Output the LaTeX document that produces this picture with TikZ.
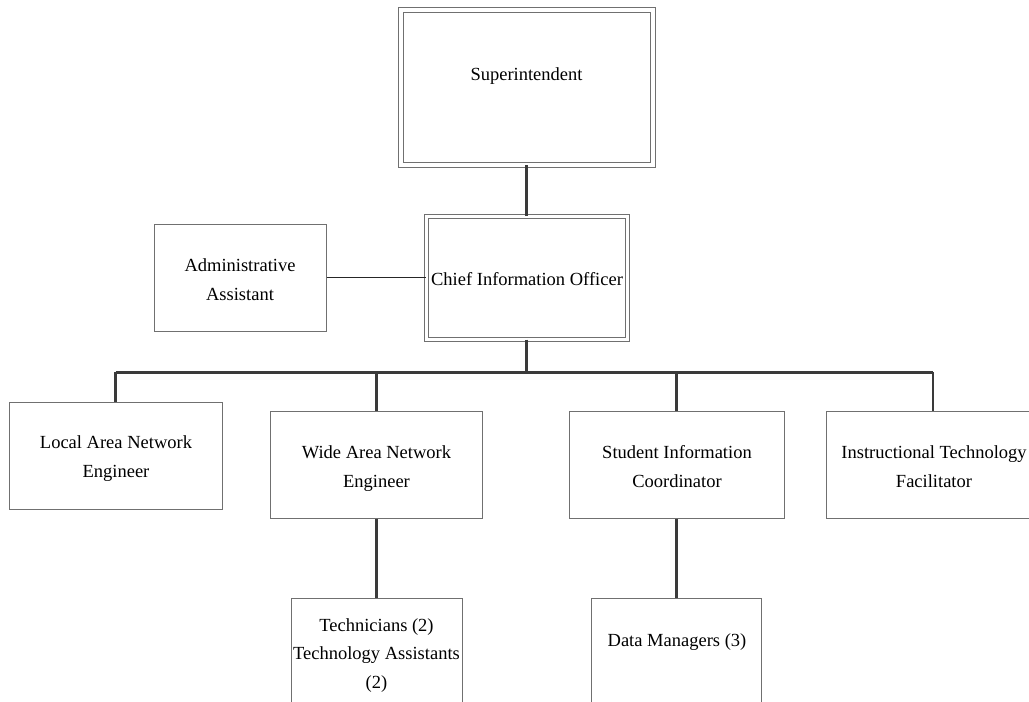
\documentclass[tikz,border=0pt]{standalone}
\usepackage{fontspec}
\setmainfont{Liberation Serif}
\definecolor{boxgray}{HTML}{707070}
\definecolor{conngray}{HTML}{3A3A3A}
\begin{document}
\begin{tikzpicture}[x=1pt,y=-1pt,
  box/.style={draw=boxgray, line width=1pt, fill=white, inner sep=0pt},
  dbox/.style={box, double=white, double distance=3pt},
  lbl/.style={font=\fontsize{18.5}{28.5}\selectfont, align=center, anchor=base, inner sep=0pt},
  conn/.style={draw=conngray, line width=2.5pt},
  busline/.style={draw=conngray, line width=3pt},
  aside/.style={draw=black!85, line width=1.5pt}]
\useasboundingbox (0,0) rectangle (1029,702);
\clip (0,0) rectangle (1029,702);

% boxes
\node[dbox, double distance=4pt, minimum width=252, minimum height=155] (sup) at (526.5,87) {};
\node[dbox, minimum width=201, minimum height=123] (cio) at (526.5,277.5) {};
\node[box, minimum width=172, minimum height=107] (adm) at (240,277.5) {};
\node[box, minimum width=213, minimum height=107] (lan) at (115.5,455.5) {};
\node[box, minimum width=212, minimum height=107] (wan) at (376.5,464.5) {};
\node[box, minimum width=215, minimum height=107] (sic) at (676.5,464.5) {};
\node[box, minimum width=214, minimum height=107] (itf) at (933,464.5) {};
\node[box, minimum width=171, minimum height=110] (tech) at (376.5,653) {};
\node[box, minimum width=170, minimum height=110] (dm) at (676.5,653) {};

% connectors
\coordinate (bus) at (526.5,372);
\draw[conn] (sup.south) -- (cio.north);
\draw[aside] (adm.east) -- (cio.west);
\draw[conn] (cio.south) -- (bus);
\draw[busline] (lan.north |- bus) -- (itf.north |- bus);
\foreach \n in {lan,wan,sic,itf}
  \draw[conn] (\n.north |- bus) -- (\n.north);
\draw[conn] (wan.south) -- (tech.north);
\draw[conn] (sic.south) -- (dm.north);

% labels (base anchor sits on the last line of each label)
\node[lbl] (supt) at (526.5,80) {Superintendent};
\node[lbl] (ciot) at (527,285) {Chief Information Officer};
\node[lbl] (admt) at (240,300) {Administrative\\Assistant};
\node[lbl] (lant) at (116,477) {Local Area Network\\Engineer};
\node[lbl] (want) at (376.5,487) {Wide Area Network\\Engineer};
\node[lbl] (sict) at (677,487) {Student Information\\Coordinator};
\node[lbl] (itft) at (934,487) {Instructional Technology\\Facilitator};
\node[lbl] (techt) at (376.5,688) {Technicians (2)\\Technology Assistants\\(2)};
\node[lbl] (dmt) at (677,646) {Data Managers (3)};
\end{tikzpicture}
\end{document}
